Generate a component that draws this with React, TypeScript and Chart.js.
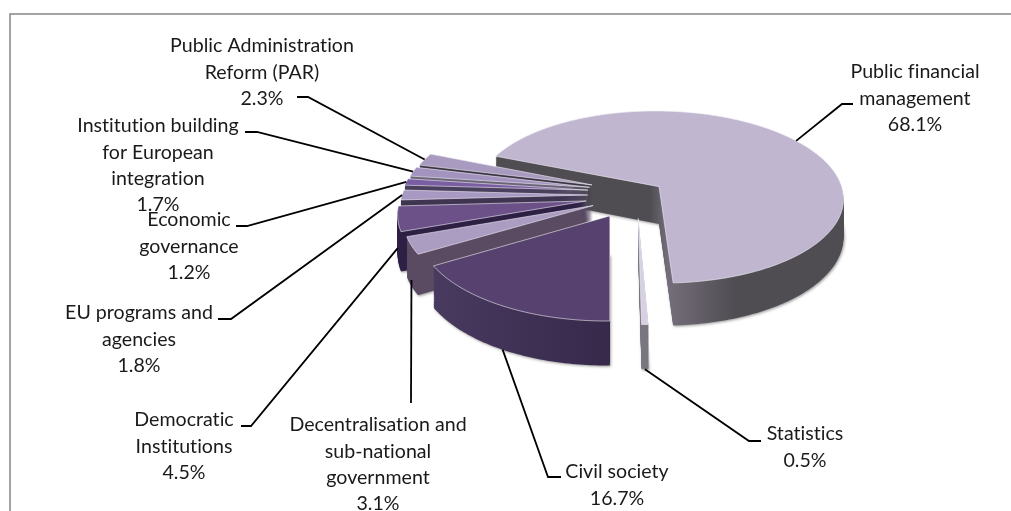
import React, { useEffect, useRef } from "react";
import { Chart, registerables } from "chart.js";

Chart.register(...registerables);

const categories = [
  "Public financial management",
  "Statistics",
  "Civil society",
  "Decentralisation and sub-national government",
  "Democratic Institutions",
  "EU programs and agencies",
  "Economic governance",
  "Institution building for European integration",
  "Public Administration Reform (PAR)",
];
const shares = [68.1, 0.5, 16.7, 3.1, 4.5, 1.8, 1.2, 1.7, 2.3];
const topColors = ["#c0b6cf", "#d6d0e2", "#57426f", "#ab9cc2", "#6b5187", "#a899c3", "#7a5ea2", "#a393bf", "#a99bbf"];
const sideStops: [number, string][][] = [
  [[650, "#4f4c52"], [668, "#746e7a"], [735, "#4f4c52"]],
  [[640, "#7a7680"]],
  [[430, "#493a60"], [610, "#36294a"]],
  [[400, "#5a4a62"]],
  [[400, "#2d2044"]],
  [[400, "#3f3550"]],
  [[400, "#4a3f5c"]],
  [[400, "#6b6478"]],
  [[400, "#3c3546"]],
];
const paintOrder = [0, 8, 7, 6, 5, 4, 3, 2, 1];
const labelLines = [
  ["Public financial", "management", "68.1%"],
  ["Statistics", "0.5%"],
  ["Civil society", "16.7%"],
  ["Decentralisation and", "sub-national", "government", "3.1%"],
  ["Democratic", "Institutions", "4.5%"],
  ["EU programs and", "agencies", "1.8%"],
  ["Economic", "governance", "1.2%"],
  ["Institution building", "for European", "integration", "1.7%"],
  ["Public Administration", "Reform (PAR)", "2.3%"],
];
// label centre x, first-line y; leader elbow and leader end; how far down the side the leader lands
const labelCentre: [number, number][] = [[915, 72], [805, 434], [617, 472], [378, 425], [184, 420], [139, 313], [189, 220], [158, 126], [262, 46]];
const leaderElbow: [number, number, number, number][] = [
  [842, 104, 853, 104], [749, 441, 761, 441], [548, 477, 561, 477], [411, 403, 411, 403], [251, 426, 241, 426],
  [231, 319, 218, 319], [247, 226, 236, 226], [257, 132, 245, 132], [308, 97, 297, 97],
];
const leaderDrop = [0, 1, 1, 0.85, 0.75, 0, 0, 0, 0];
const sliceNudge: [number, number][] = [[-3, 1], [9, 1], [3, 1], [4, 0], [0, 0], [2, -2], [2, -5], [3, -6], [4, -6]];

const TILT = 0.5, WIDEN = 1.06, PERSP = 0.0007, DEPTH = 38;

const project = (arc: any, i: number, px: number, py: number, dz: number): [number, number] => {
  const w = 1 / (1 - PERSP * py);
  return [arc.x + WIDEN * px * w + sliceNudge[i][0], arc.y + (py * TILT + dz) * w + sliceNudge[i][1]];
};

const slicePoints = (arc: any) => {
  const a0 = arc.startAngle, a1 = arc.endAngle, r = arc.outerRadius;
  const mid = (a0 + a1) / 2, off = arc.options.offset || 0;
  const ox = Math.cos(mid) * off, oy = Math.sin(mid) * off;
  const pts: [number, number][] = [[ox, oy]];
  const n = Math.max(2, Math.ceil(((a1 - a0) * 180) / Math.PI));
  for (let k = 0; k <= n; k++) {
    const a = a0 + ((a1 - a0) * k) / n;
    pts.push([ox + Math.cos(a) * r, oy + Math.sin(a) * r]);
  }
  return pts;
};

const pie3d = {
  id: "pie3d",
  beforeDatasetDraw(chart: any) {
    const ctx = chart.ctx as CanvasRenderingContext2D;
    const arcs = chart.getDatasetMeta(0).data;
    paintOrder.forEach((i) => {
      const arc = arcs[i];
      const pts = slicePoints(arc);
      const trace = (dz: number) => {
        ctx.beginPath();
        pts.forEach(([x, y], k) => {
          const [sx, sy] = project(arc, i, x, y, dz);
          if (k === 0) ctx.moveTo(sx, sy);
          else ctx.lineTo(sx, sy);
        });
        ctx.closePath();
      };
      const g = ctx.createLinearGradient(0, 0, 1011, 0);
      sideStops[i].forEach(([x, c]) => g.addColorStop(x / 1011, c));
      ctx.save();
      ctx.fillStyle = g;
      for (let d = DEPTH; d > 0; d -= 1) {
        if (d === DEPTH) {
          ctx.shadowColor = "rgba(60,60,60,0.55)";
          ctx.shadowBlur = 3;
          ctx.shadowOffsetX = 1;
          ctx.shadowOffsetY = 1;
        } else {
          ctx.shadowColor = "transparent";
          ctx.shadowBlur = 0;
          ctx.shadowOffsetX = 0;
          ctx.shadowOffsetY = 0;
        }
        trace(d);
        ctx.fill();
      }
      trace(0);
      ctx.fillStyle = arc.options.backgroundColor;
      ctx.fill();
      ctx.strokeStyle = "rgba(240,238,245,0.75)";
      ctx.lineWidth = 0.8;
      ctx.stroke();
      ctx.restore();
    });
    return false;
  },
  afterDraw(chart: any) {
    const ctx = chart.ctx as CanvasRenderingContext2D;
    const arcs = chart.getDatasetMeta(0).data;
    ctx.save();
    ctx.strokeStyle = "#868686";
    ctx.lineWidth = 1.5;
    ctx.strokeRect(10, 14, 1040, 540);
    ctx.strokeStyle = "#000";
    ctx.lineWidth = 1.8;
    arcs.forEach((arc: any, i: number) => {
      const mid = (arc.startAngle + arc.endAngle) / 2;
      const off = arc.options.offset || 0;
      const r = arc.outerRadius;
      const x = Math.cos(mid) * (off + r), y = Math.sin(mid) * (off + r);
      const [ax, ay] = project(arc, i, x, y, DEPTH * leaderDrop[i]);
      const [ex, ey, tx, ty] = leaderElbow[i];
      ctx.beginPath();
      ctx.moveTo(ax, ay);
      ctx.lineTo(ex, ey);
      ctx.lineTo(tx, ty);
      ctx.stroke();
    });
    ctx.fillStyle = "#1a1a1a";
    ctx.font = '19.6px Lato, "Open Sans", sans-serif';
    (ctx as any).letterSpacing = "0.01px";
    ctx.textAlign = "center";
    ctx.textBaseline = "middle";
    labelLines.forEach((lines, i) => {
      const [cx, y0] = labelCentre[i];
      lines.forEach((t, k) => ctx.fillText(t, cx, y0 + k * 26.2));
    });
    ctx.restore();
  },
};

export default function App() {
  const ref = useRef<HTMLCanvasElement>(null);
  useEffect(() => {
    const chart = new Chart(ref.current!, {
      type: "pie",
      plugins: [pie3d],
      data: {
        labels: categories,
        datasets: [{ data: shares, backgroundColor: topColors, offset: 40, borderWidth: 0 }],
      },
      options: {
        animation: false,
        responsive: false,
        rotation: -68,
        radius: 175,
        layout: { padding: { left: 245, bottom: 117 } },
        plugins: { legend: { display: false }, tooltip: { enabled: false } },
      },
    } as any);
    return () => chart.destroy();
  }, []);
  return (
    <div style={{ position: "absolute", left: 0, top: 0, width: 1011, height: 511, overflow: "hidden", background: "#fff" }}>
      <canvas ref={ref} width={1011} height={511} style={{ display: "block" }} />
    </div>
  );
}
